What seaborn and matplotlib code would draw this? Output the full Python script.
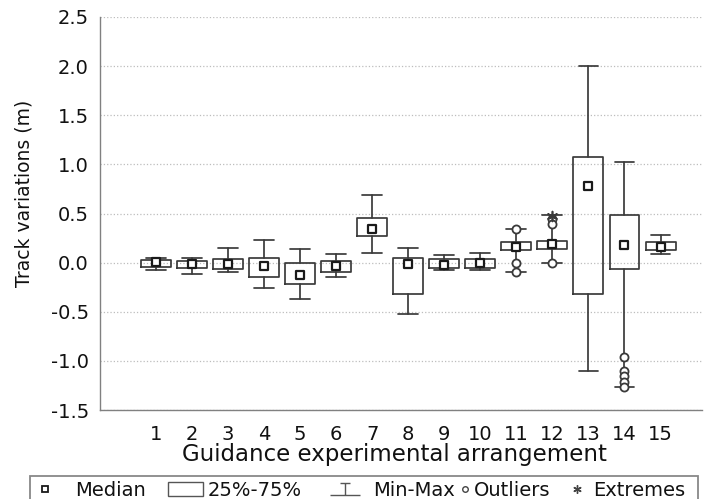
import numpy as np
import pandas as pd
import seaborn as sns
import matplotlib
matplotlib.use("Agg")
import matplotlib.pyplot as plt
from matplotlib.path import Path
from matplotlib.lines import Line2D
from matplotlib.patches import Rectangle

# ---- data ----
groups = list(range(1, 16))
medians = [0.01, -0.01, -0.01, -0.03, -0.13, -0.03, 0.34, -0.01, -0.02, 0.00, 0.16, 0.19, 0.78, 0.18, 0.16]
q1 = [-0.04, -0.05, -0.06, -0.15, -0.22, -0.10, 0.27, -0.32, -0.05, -0.05, 0.13, 0.14, -0.32, -0.06, 0.13]
q3 = [0.03, 0.02, 0.04, 0.05, 0.00, 0.02, 0.45, 0.05, 0.04, 0.04, 0.21, 0.22, 1.07, 0.48, 0.21]
mins = [-0.07, -0.12, -0.10, -0.26, -0.37, -0.15, 0.10, -0.52, -0.08, -0.08, -0.10, 0.00, -1.10, -1.27, 0.09]
maxs = [0.05, 0.05, 0.15, 0.23, 0.14, 0.09, 0.69, 0.15, 0.08, 0.10, 0.34, 0.48, 2.00, 1.02, 0.28]

outlier_groups = [11, 11, 11, 12, 12, 12, 14, 14, 14, 14, 14]
outlier_values = [0.34, 0.00, -0.10, 0.44, 0.39, 0.00, -0.96, -1.10, -1.155, -1.21, -1.265]
extreme_groups = [12]
extreme_values = [0.47]

yticks = [-1.5, -1.0, -0.5, 0.0, 0.5, 1.0, 1.5, 2.0, 2.5]
xlabel = "Guidance experimental arrangement"
ylabel = "Track variations (m)"
legend_labels = ["Median", "25%-75%", "Min-Max", "Outliers", "Extremes"]

# ---- style ----
sns.set_theme(style="white")
plt.rcParams["font.family"] = ["DejaVu Sans"]
INK = "#3a3a3a"

W, H = 704, 499
fig = plt.figure(figsize=(W / 100, H / 100), dpi=100)
ax = fig.add_axes([100 / W, 1 - 410 / H, 602 / W, 393 / H])

# boxes + min-max whiskers
stats = [dict(med=m, q1=a, q3=b, whislo=lo, whishi=hi, fliers=[])
         for m, a, b, lo, hi in zip(medians, q1, q3, mins, maxs)]
line_kw = dict(color=INK, linewidth=1.25)
ax.bxp(stats, positions=groups, widths=0.83, capwidths=0.55, showfliers=False,
       patch_artist=False, boxprops=line_kw, whiskerprops=line_kw,
       capprops=line_kw, medianprops=dict(linewidth=0))

df_med = pd.DataFrame({"group": groups, "median": medians})
df_out = pd.DataFrame({"group": outlier_groups, "value": outlier_values})
df_ext = pd.DataFrame({"group": extreme_groups, "value": extreme_values})

sns.scatterplot(data=df_med, x="group", y="median", marker="s", s=36,
                facecolor="white", edgecolor="#1a1a1a", linewidth=1.6,
                ax=ax, zorder=4, legend=False)
sns.scatterplot(data=df_out, x="group", y="value", marker="o", s=34,
                facecolor="white", edgecolor=INK, linewidth=1.3,
                ax=ax, zorder=4, legend=False)
sns.scatterplot(data=df_ext, x="group", y="value", marker=(6, 2, 0), s=50,
                color=INK, linewidth=1.2, ax=ax, zorder=5, legend=False)

# axes
ax.set_xlim(-0.55, 16.15)
ax.set_ylim(-1.5, 2.5)
ax.set_yticks(yticks)
ax.set_yticklabels([f"{v:.1f}" for v in yticks])
ax.set_xticks(range(0, 17))
ax.set_xticklabels([""] + [str(g) for g in groups] + [""])
ax.tick_params(axis="both", direction="in", length=3, width=0.8, color="#777777",
               labelsize=14, labelcolor="#111111")
ax.tick_params(axis="y", pad=8)
ax.tick_params(axis="x", pad=11)
ax.yaxis.grid(True, linestyle=":", color="#bdbdbd", linewidth=0.9)
ax.xaxis.grid(False)
for side in ["top", "right"]:
    ax.spines[side].set_visible(False)
for side in ["left", "bottom"]:
    ax.spines[side].set_color("#808080")
    ax.spines[side].set_linewidth(1.0)

ax.set_xlabel(xlabel, fontsize=16.5, color="#111111")
ax.set_ylabel(ylabel, fontsize=13.5, color="#111111")
ax.xaxis.set_label_coords(0.489, -0.084)
ax.yaxis.set_label_coords(-0.111, 0.551)

# ---- legend (Statistica-style strip at the bottom) ----
def fx(px):
    return px / W

def fy(py):
    return 1 - py / H

fig.add_artist(Rectangle((fx(30), fy(506)), fx(698) - fx(30), fy(476) - fy(506),
                         transform=fig.transFigure, fill=False,
                         edgecolor="#888888", linewidth=1.3))
ly = 489
# median symbol
fig.add_artist(Line2D([fx(45)], [fy(ly)], marker="s", markersize=5, linestyle="none",
                      markerfacecolor="white", markeredgecolor="#1a1a1a",
                      markeredgewidth=1.3, transform=fig.transFigure))
# box symbol
fig.add_artist(Rectangle((fx(168), fy(496)), fx(203) - fx(168), fy(482) - fy(496),
                         transform=fig.transFigure, fill=False,
                         edgecolor="#555555", linewidth=1.0))
# min-max symbol (top cap, stem, wider bottom cap)
wh_path = Path([(-0.3, 0.4), (0.3, 0.4), (0, 0.4), (0, -0.4), (-1, -0.4), (1, -0.4)],
               [Path.MOVETO, Path.LINETO, Path.MOVETO, Path.LINETO,
                Path.MOVETO, Path.LINETO])
fig.add_artist(Line2D([fx(345)], [fy(ly)], marker=wh_path, markersize=22,
                      linestyle="none", markeredgecolor="#555555",
                      markeredgewidth=1.0, transform=fig.transFigure))
# outlier symbol
fig.add_artist(Line2D([fx(465)], [fy(ly)], marker="o", markersize=4, linestyle="none",
                      markerfacecolor="white", markeredgecolor="#444444",
                      markeredgewidth=1.0, transform=fig.transFigure))
# extreme symbol
fig.add_artist(Line2D([fx(577)], [fy(ly)], marker=(6, 2, 0), markersize=6,
                      linestyle="none", markeredgecolor="#444444",
                      markeredgewidth=1.0, transform=fig.transFigure))
for lab, xpx in zip(legend_labels, [75, 208, 373, 474, 593]):
    fig.text(fx(xpx), fy(ly), lab, fontsize=14, color="#111111",
             ha="left", va="center_baseline")

fig.savefig("out.png", dpi=100)
